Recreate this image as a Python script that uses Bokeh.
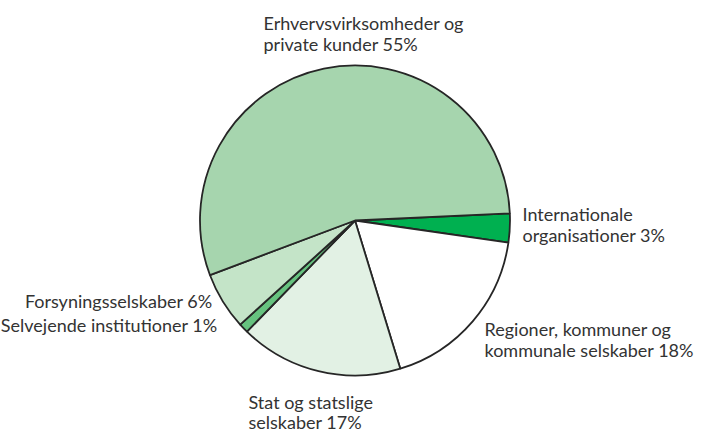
from bokeh.plotting import figure
from bokeh.models import Range1d, ColumnDataSource
from bokeh.core.properties import value
from bokeh.embed import file_html
from bokeh.resources import INLINE
import math

# Data (clockwise from the right, just above horizontal)
categories = ["Internationale organisationer", "Regioner, kommuner og kommunale selskaber",
              "Stat og statslige selskaber", "Selvejende institutioner",
              "Forsyningsselskaber", "Erhvervsvirksomheder og private kunder"]
shares = [3, 18, 17, 1, 6, 55]
colors = ["#00b050", "#ffffff", "#e2f1e4", "#66c27f", "#c4e4c8", "#a6d5ae"]

labels = ["Internationale\norganisationer 3%",
          "Regioner, kommuner og\nkommunale selskaber 18%",
          "Stat og statslige\nselskaber 17%",
          "Selvejende institutioner 1%",
          "Forsyningsselskaber 6%",
          "Erhvervsvirksomheder og\nprivate kunder 55%"]

W, H = 702, 432
p = figure(width=W, height=H, output_backend="svg", toolbar_location=None,
           x_range=Range1d(0, W), y_range=Range1d(0, H), min_border=0)
p.axis.visible = False
p.grid.visible = False
p.outline_line_color = None

cx, cy, r = 354.5, H - 220.0, 155.0
start0 = math.radians(2.6)
total = sum(shares)
starts, ends = [], []
a = start0
for s in shares:
    starts.append(a)
    a = a - s / total * 2 * math.pi
    ends.append(a)

src = ColumnDataSource(dict(start=starts, end=ends, color=colors, cat=categories))
p.wedge(x=cx, y=cy, radius=r, start_angle="start", end_angle="end", direction="clock",
        fill_color="color", line_color="#262626", line_width=1.8, source=src)

def sy(y):
    return H - y

# label placement: (x, baseline y of first line in screen px, align, line step)
pos = [(522, 213, "left", 21), (484, 328, "left", 21), (248, 401, "left", 20),
       (217, 324, "right", 21), (212, 300, "right", 21), (263, 22, "left", 21)]
for lab, (x, y, al, lh) in zip(labels, pos):
    for i, line in enumerate(lab.split("\n")):
        p.text(x=[x], y=[sy(y + i * lh)], text=[line], text_align=al,
               text_baseline="alphabetic", text_font=value("Lato"),
               text_font_size="18px", text_color="#333333")

open("out.html", "w").write(file_html(p, INLINE))
